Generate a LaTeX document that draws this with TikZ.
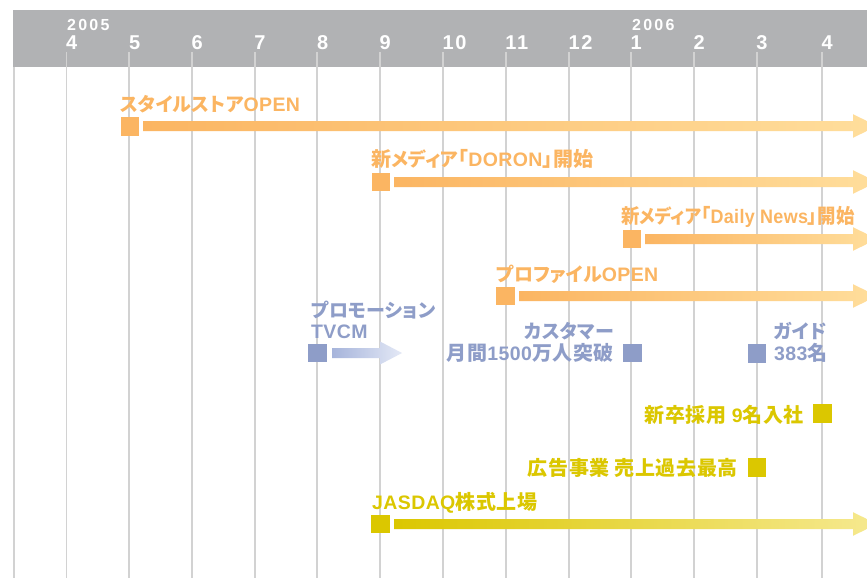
\documentclass[tikz,border=0pt]{standalone}
\usepackage{fontspec}
\newfontfamily\jp{Noto Sans CJK JP}[LetterSpace=3,RawFeature=+palt]
\newfontfamily\jk{Noto Sans CJK JP}[LetterSpace=1,RawFeature=+palt]
\newfontfamily\lt{Liberation Sans}[LetterSpace=2]
\newfontfamily\hd{Liberation Sans}[LetterSpace=8]
\newfontfamily\hdy{Liberation Sans}[LetterSpace=14]
\definecolor{hdgray}{HTML}{B1B2B4}
\definecolor{gridc}{HTML}{D2D2D2}
\definecolor{ora}{HTML}{FBB562}
\definecolor{oraL}{HTML}{FFDE9C}
\definecolor{blu}{HTML}{8E9DC8}
\definecolor{bluA}{HTML}{A6B4DB}
\definecolor{bluB}{HTML}{E4E9F6}
\definecolor{yel}{HTML}{DBC700}
\definecolor{yelL}{HTML}{F6E990}
\newcommand\labfont{\jp\bfseries\fontsize{20pt}{22pt}\selectfont}
\newcommand\La[1]{{\lt\fontsize{19.5pt}{22pt}\selectfont #1}}
\newcommand\Ka[1]{{\jk\fontsize{19pt}{22pt}\selectfont #1}}
\newcommand\tlarrow[4]{%
  \shade[left color=#3,right color=#4] (#1,#2-5) -- (853,#2-5) -- (853,#2-11.8) -- (877,#2) -- (853,#2+11.8) -- (853,#2+5) -- (#1,#2+5) -- cycle;}
\begin{document}
\begin{tikzpicture}[x=1pt,y=-1pt,
  lab/.style={inner sep=0pt,font=\labfont},
  sq/.style={draw=none,inner sep=0pt,minimum size=18.5pt},
  mon/.style={inner sep=0pt,anchor=base west,text=white,font=\hd\bfseries\fontsize{20pt}{22pt}\selectfont},
  yr/.style={inner sep=0pt,anchor=base west,text=white,font=\hdy\bfseries\fontsize{16pt}{18pt}\selectfont},
  grid/.style={draw=gridc,line width=1.8pt}]
\useasboundingbox (0,0) rectangle (867,578);
\fill[white] (0,0) rectangle (867,578);
% header
\fill[hdgray] (13,10) rectangle (867,67);
\draw[draw=gridc,line width=1.6pt] (13.8,67) -- (13.8,578);
\foreach \x/\m [count=\i] in {66.5/4,129.3/5,192/6,254.7/7,317.3/8,380/9,443/10,505.7/11,569/12,631/1,694/2,756.7/3,822/4}{
  \draw[grid] (\x,52) -- (\x,578);
  \node[mon] (m\i) at (\x-0.5,49) {\m};
}
\node[yr] (y2005) at (67,31) {2005};
\node[yr] (y2006) at (632,31) {2006};
% orange rows
\tlarrow{143}{126}{ora}{oraL}
\node[sq,fill=ora] (s1) at (130,126.5) {};
\node[lab,text=ora,anchor=west] (l1) at (120,104) {\Ka{スタイルストア}\La{OPEN}};
\tlarrow{394}{182}{ora}{oraL}
\node[sq,fill=ora] (s2) at (381,182) {};
\node[lab,text=ora,anchor=west] (l2) at (371,159) {新\Ka{メディア}「\La{DORON}」開始};
\tlarrow{645}{239}{ora}{oraL}
\node[sq,fill=ora] (s3) at (632,239) {};
\node[lab,text=ora,anchor=west] (l3) at (621,217) {\scalebox{0.92}[1]{新\Ka{メディア}「\La{Daily News}」開始}};
\tlarrow{519}{296}{ora}{oraL}
\node[sq,fill=ora] (s4) at (505.5,296) {};
\node[lab,text=ora,anchor=west] (l4) at (496,274) {\Ka{プロファイル}\La{OPEN}};
% blue rows
\shade[left color=bluA,right color=bluB] (332,348) -- (380,348) -- (380,341.5) -- (402,353) -- (380,364.5) -- (380,358) -- (332,358) -- cycle;
\node[sq,fill=blu] (b1) at (317.5,353) {};
\node[lab,text=blu,anchor=west] (bl1) at (311,310) {\Ka{プロモーション}};
\node[lab,text=blu,anchor=west] (bl1b) at (311,332) {\La{TVCM}};
\node[sq,fill=blu] (b2) at (632.5,353) {};
\node[lab,text=blu,anchor=east] (bl2) at (614,331) {\Ka{カスタマー}};
\node[lab,text=blu,anchor=east] (bl2b) at (614,353) {月間\La{1500}万人突破};
\node[sq,fill=blu] (b3) at (757,353.5) {};
\node[lab,text=blu,anchor=west] (bl3) at (774,331) {\Ka{ガイド}};
\node[lab,text=blu,anchor=west] (bl3b) at (774,353) {\La{383}名};
% yellow rows
\node[sq,fill=yel] (y1) at (822.5,413.5) {};
\node[lab,text=yel,anchor=east] (yl1) at (804,415) {新卒採用 \La{9}名入社};
\node[sq,fill=yel] (y2) at (757,467.5) {};
\node[lab,text=yel,anchor=east] (yl2) at (738,468) {広告事業 売上過去最高};
\tlarrow{394}{524}{yel}{yelL}
\node[sq,fill=yel] (y3) at (380.5,524) {};
\node[lab,text=yel,anchor=west] (yl3) at (372,503) {\La{JASDAQ}株式上場};
\end{tikzpicture}
\end{document}
